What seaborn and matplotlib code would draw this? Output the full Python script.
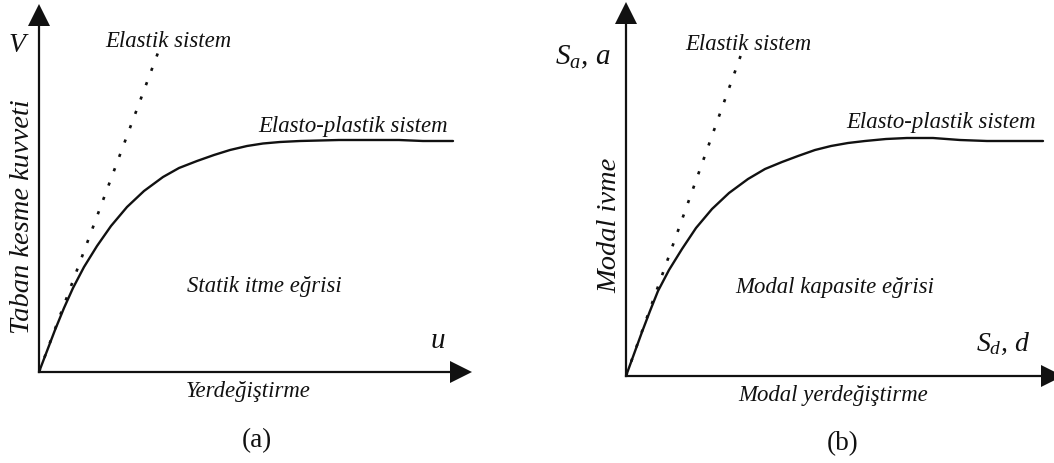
import matplotlib
matplotlib.use("Agg")
import matplotlib.pyplot as plt
import seaborn as sns
import pandas as pd

# (a) Static pushover curve: base shear V against displacement u (normalised units)
disp_a = [0, 0.08, 0.16, 0.25, 0.34, 0.45, 0.58, 0.72, 0.88, 1.05, 1.24, 1.40,
          1.58, 1.75, 1.91, 2.08, 2.24, 2.41, 2.61, 3.00, 3.21, 3.60, 3.84, 4.14]
shear_a = [0, 0.21, 0.42, 0.64, 0.84, 1.05, 1.26, 1.46, 1.65, 1.81, 1.95, 2.04,
           2.11, 2.17, 2.22, 2.26, 2.285, 2.30, 2.31, 2.32, 2.32, 2.32, 2.31, 2.31]
elastic_a_x = [0, 1.20]
elastic_a_y = [0, 3.22]

# (b) Modal capacity curve: spectral acceleration Sa against spectral displacement Sd
disp_b = [0, 0.08, 0.16, 0.24, 0.32, 0.43, 0.56, 0.70, 0.86, 1.03, 1.22, 1.39,
          1.56, 1.72, 1.89, 2.05, 2.22, 2.39, 2.60, 2.81, 3.07, 3.34, 3.61, 3.90, 4.17]
accel_b = [0, 0.22, 0.44, 0.65, 0.85, 1.06, 1.27, 1.48, 1.67, 1.83, 1.97, 2.07,
           2.14, 2.20, 2.26, 2.30, 2.33, 2.35, 2.37, 2.38, 2.38, 2.36, 2.35, 2.35, 2.35]
elastic_b_x = [0, 1.16]
elastic_b_y = [0, 3.24]

sns.set_style("white")
plt.rcParams["font.family"] = ["Liberation Serif", "DejaVu Serif"]
plt.rcParams["mathtext.fontset"] = "custom"
plt.rcParams["mathtext.it"] = "Liberation Serif:italic"
plt.rcParams["mathtext.rm"] = "Liberation Serif"

W, H = 1054, 464
fig = plt.figure(figsize=(W / 100, H / 100), dpi=100)
INK = "#111111"


def fx(px):
    return px / W


def fy(py):
    return 1 - py / H


def panel(origin, right, top):
    ox, oy = origin
    ax = fig.add_axes([fx(ox), fy(oy), (right - ox) / W, (oy - top) / H])
    ax.set_xlim(0, (right - ox) / 100)
    ax.set_ylim(0, (oy - top) / 100)
    ax.set_xticks([])
    ax.set_yticks([])
    ax.set_facecolor("none")
    for side in ("top", "right"):
        ax.spines[side].set_visible(False)
    for side in ("left", "bottom"):
        ax.spines[side].set_linewidth(1.6)
        ax.spines[side].set_color(INK)
    # arrow heads at the ends of both axes
    ax.plot(1, 0, ">", color=INK, markersize=16, mew=0,
            transform=ax.transAxes, clip_on=False)
    ax.plot(0, 1, "^", color=INK, markersize=16, mew=0,
            transform=ax.transAxes, clip_on=False)
    ax.set_xlabel("")
    ax.set_ylabel("")
    return ax


def draw_curves(ax, x, y, ex, ey):
    curve = pd.DataFrame({"x": x, "y": y})
    elastic = pd.DataFrame({"x": ex, "y": ey})
    sns.lineplot(data=elastic, x="x", y="y", ax=ax, color=INK, lw=1.9,
                 dashes=False, sort=False, estimator=None)
    ax.lines[-1].set_dashes((1.2, 4.6))
    sns.lineplot(data=curve, x="x", y="y", ax=ax, color=INK, lw=1.7,
                 sort=False, estimator=None)
    ax.set_xlabel("")
    ax.set_ylabel("")


ax_a = panel((39, 373), 461, 16)
draw_curves(ax_a, disp_a, shear_a, elastic_a_x, elastic_a_y)
ax_b = panel((626, 377), 1052, 14)
draw_curves(ax_b, disp_b, accel_b, elastic_b_x, elastic_b_y)

IT = dict(fontstyle="italic", color=INK, va="baseline")


def label(px, py, s, size=16.4, ha="center", **kw):
    opts = dict(IT)
    opts.update(kw)
    fig.text(fx(px), fy(py), s, fontsize=size, ha=ha, **opts)


# panel (a) texts
label(17, 52, "V", size=20)
label(168, 47, "Elastik sistem")
label(353, 132, "Elasto-plastik sistem")
label(264, 292, "Statik itme eğrisi")
label(438, 348, "u", size=21)
label(248, 397, "Yerdeğiştirme")
fig.text(fx(23), fy(217), "Taban kesme kuvveti", fontsize=20.5, fontstyle="italic",
         rotation=90, ha="center", va="center", color=INK)
fig.text(fx(257), fy(441), "(a)", fontsize=19.5, ha="center", va="center", color=INK)

# panel (b) texts
label(583, 64, r"$S_a$, $a$", size=21)
label(748, 50, "Elastik sistem")
label(941, 128, "Elasto-plastik sistem")
label(835, 293, "Modal kapasite eğrisi")
label(1003, 351, r"$S_d$, $d$", size=20)
label(833, 401, "Modal yerdeğiştirme")
fig.text(fx(610), fy(225), "Modal ivme", fontsize=20.5, fontstyle="italic",
         rotation=90, ha="center", va="center", color=INK)
fig.text(fx(843), fy(444), "(b)", fontsize=19.5, ha="center", va="center", color=INK)

fig.savefig("out.png", dpi=100, facecolor="white")
